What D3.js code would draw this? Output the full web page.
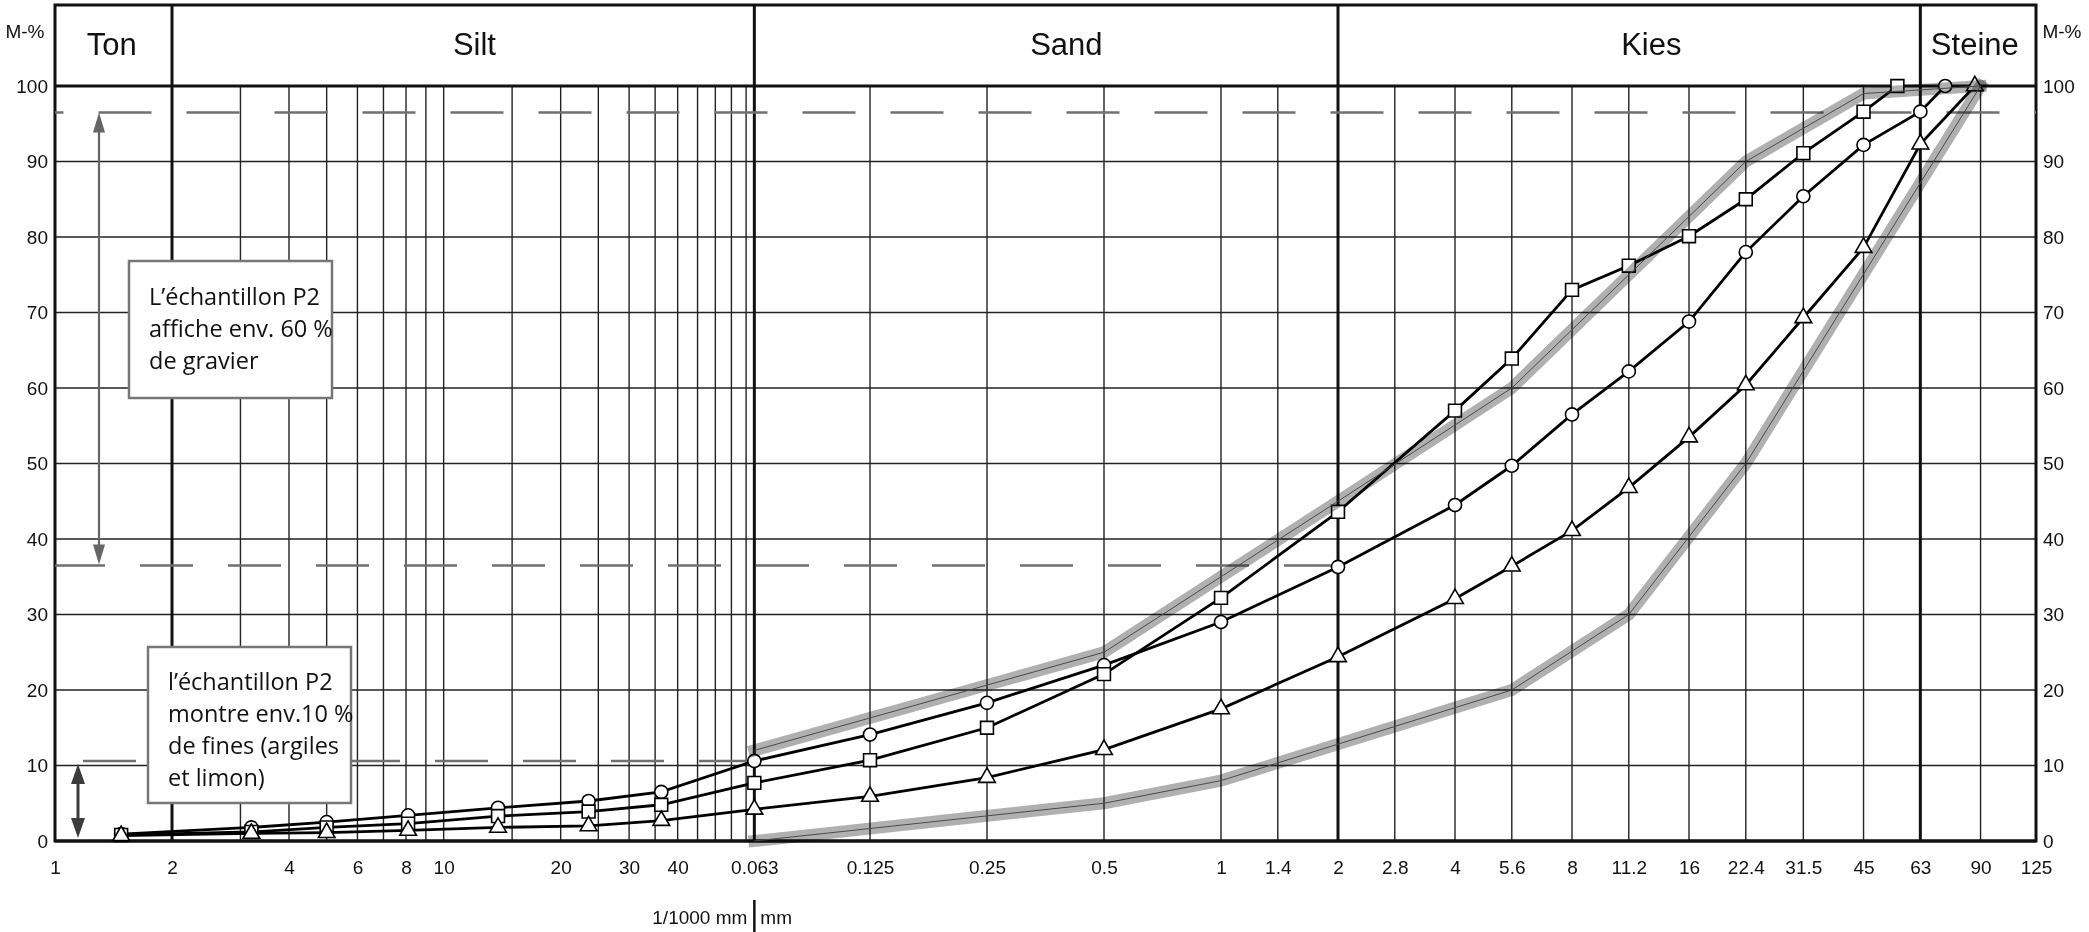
<!DOCTYPE html>
<html>
<head>
<meta charset="utf-8">
<script src="https://cdn.jsdelivr.net/npm/d3@7"></script>
<style>
  body { margin: 0; background: #fff; }
  svg { display: block; }
</style>
</head>
<body>
<script>
// grain sizes are in mm
let circleSizes = [0.00148, 0.0032, 0.005, 0.0081, 0.0138, 0.0236, 0.0363, 0.063, 0.125, 0.25, 0.5, 1, 2, 4, 5.6, 8, 11.2, 16, 22.4, 31.5, 45, 63, 73]
let circleValues = [0.9, 1.8, 2.5, 3.4, 4.4, 5.3, 6.5, 10.6, 14.1, 18.3, 23.3, 29.0, 36.3, 44.5, 49.7, 56.5, 62.2, 68.8, 78.0, 85.4, 92.2, 96.6, 100]

let squareSizes = [0.00148, 0.0032, 0.005, 0.0081, 0.0138, 0.0236, 0.0363, 0.063, 0.125, 0.25, 0.5, 1, 2, 4, 5.6, 8, 11.2, 16, 22.4, 31.5, 45, 55]
let squareValues = [0.8, 1.2, 1.8, 2.3, 3.3, 3.9, 4.8, 7.7, 10.7, 15.0, 22.1, 32.2, 43.6, 57.0, 63.9, 73.0, 76.2, 80.1, 85.0, 91.1, 96.6, 100]

let triangleSizes = [0.00148, 0.0032, 0.005, 0.0081, 0.0138, 0.0236, 0.0363, 0.063, 0.125, 0.25, 0.5, 1, 2, 4, 5.6, 8, 11.2, 16, 22.4, 31.5, 45, 63, 87]
let triangleValues = [0.7, 1.0, 1.1, 1.4, 1.8, 2.0, 2.7, 4.2, 5.9, 8.4, 12.1, 17.5, 24.4, 32.1, 36.4, 41.1, 46.8, 53.5, 60.4, 69.3, 78.6, 92.3, 100]

// grading envelope (grey band)
let upperSizes = [0.063, 0.5, 1, 2, 5.6, 11.2, 22.4, 45, 90]
let upperValues = [12, 25, 35, 45, 60, 75, 90, 99, 100]
let lowerSizes = [0.063, 0.5, 1, 5.6, 11.2, 22.4, 90]
let lowerValues = [0, 5, 8, 20, 30, 50, 100]

// axis
let tickSizes = [0.001, 0.002, 0.004, 0.006, 0.008, 0.01, 0.02, 0.03, 0.04, 0.063, 0.125, 0.25, 0.5, 1, 1.4, 2, 2.8, 4, 5.6, 8, 11.2, 16, 22.4, 31.5, 45, 63, 90, 125]
let tickLabels = ['1', '2', '4', '6', '8', '10', '20', '30', '40', '0.063', '0.125', '0.25', '0.5', '1', '1.4', '2', '2.8', '4', '5.6', '8', '11.2', '16', '22.4', '31.5', '45', '63', '90', '125']
let siltLines = [0.003, 0.004, 0.005, 0.006, 0.007, 0.008, 0.009, 0.01, 0.015, 0.02, 0.025, 0.03, 0.035, 0.04, 0.045, 0.05, 0.055, 0.06]
let coarseLines = [0.125, 0.25, 0.5, 1, 1.4, 2.8, 4, 5.6, 8, 11.2, 16, 22.4, 31.5, 45, 90]
let bounds = [0.002, 0.063, 2, 63]
let zones = ['Ton', 'Silt', 'Sand', 'Kies', 'Steine']
let zoneAt = [0.0014, 0.012, 0.4, 12.8, 87]
let yTicks = [0, 10, 20, 30, 40, 50, 60, 70, 80, 90, 100]

// reference levels (dashed)
let refLevels = [96.5, 36.5, 10.6]
let refEnds = [125, 2, 0.063]

let box1Lines = ['L’échantillon P2', 'affiche env. 60 %', 'de gravier']
let box2Lines = ['l’échantillon P2', 'montre env.10 %', 'de fines (argiles', 'et limon)']

let w = 2089
let h = 932
let headTop = 5

let x = d3.scaleLog().domain([0.001, 125]).range([55, 2036])
let y = d3.scaleLinear().domain([0, 100]).range([841, 86])

let svg = d3.select('body').append('svg').attr('width', w).attr('height', h)
  .style('font-family', "'Liberation Sans', Arial, sans-serif")

// horizontal grid
svg.append('g').selectAll('line').data(yTicks.slice(1, -1)).join('line')
  .attr('x1', x(0.001)).attr('x2', x(125))
  .attr('y1', d => y(d)).attr('y2', d => y(d))
  .attr('stroke', '#222').attr('stroke-width', 1.4)

// vertical grid
svg.append('g').selectAll('line').data(siltLines.concat(coarseLines)).join('line')
  .attr('x1', d => x(d)).attr('x2', d => x(d))
  .attr('y1', y(100)).attr('y2', y(0))
  .attr('stroke', '#222').attr('stroke-width', 1.4)

// frame and zone bounds
svg.append('rect').attr('x', x(0.001)).attr('y', headTop)
  .attr('width', x(125) - x(0.001)).attr('height', y(0) - headTop)
  .attr('fill', 'none').attr('stroke', '#111').attr('stroke-width', 3)
svg.append('g').selectAll('line').data([0, 100]).join('line')
  .attr('x1', x(0.001)).attr('x2', x(125))
  .attr('y1', d => y(d)).attr('y2', d => y(d))
  .attr('stroke', '#111').attr('stroke-width', 3)
svg.append('g').selectAll('line').data(bounds).join('line')
  .attr('x1', d => x(d)).attr('x2', d => x(d))
  .attr('y1', headTop).attr('y2', y(0))
  .attr('stroke', '#111').attr('stroke-width', 3)

// zone names
svg.append('g').selectAll('text').data(zones).join('text')
  .attr('x', (d, i) => x(zoneAt[i])).attr('y', 55)
  .attr('text-anchor', 'middle').attr('font-size', 31).attr('fill', '#111')
  .text(d => d)

// dashed reference lines
let dashStart = [10.5, 52, -5]
svg.append('g').selectAll('line').data(refLevels).join('line')
  .attr('x1', x(0.001)).attr('x2', (d, i) => x(refEnds[i]))
  .attr('y1', d => y(d)).attr('y2', d => y(d))
  .attr('stroke', '#707070').attr('stroke-width', 2.6)
  .attr('stroke-dasharray', '53 35')
  .attr('stroke-dashoffset', (d, i) => ((x(0.001) - dashStart[i]) % 88 + 88) % 88)

// series
let line = d3.line().x(d => x(d[0])).y(d => y(d[1]))
let series = [
  { sizes: circleSizes, values: circleValues, sym: d3.symbolCircle, size: 135 },
  { sizes: squareSizes, values: squareValues, sym: d3.symbolSquare, size: 165 },
  { sizes: triangleSizes, values: triangleValues, sym: d3.symbolTriangle, size: 120 }
]
series.forEach(s => {
  let pts = s.sizes.map((d, i) => [d, s.values[i]])
  svg.append('path').datum(pts).attr('d', line)
    .attr('fill', 'none').attr('stroke', '#000').attr('stroke-width', 2.8)
  svg.append('g').selectAll('path').data(pts).join('path')
    .attr('d', d3.symbol().type(s.sym).size(s.size))
    .attr('transform', d => 'translate(' + x(d[0]) + ',' + y(d[1]) + ')')
    .attr('fill', '#fff').attr('stroke', '#000').attr('stroke-width', 1.6)
})

// envelope band
let env = [upperSizes.map((d, i) => [d, upperValues[i]]), lowerSizes.map((d, i) => [d, lowerValues[i]])]
svg.append('g').selectAll('path').data(env).join('path')
  .attr('d', line).attr('fill', 'none')
  .attr('stroke', '#b0b0b0').attr('stroke-width', 12).attr('stroke-linecap', 'square')
  .style('mix-blend-mode', 'multiply')
svg.append('g').selectAll('path').data(env).join('path')
  .attr('d', line).attr('fill', 'none')
  .attr('stroke', '#4a4a4a').attr('stroke-width', 1)

// axes
let gx = svg.append('g').attr('transform', 'translate(0,' + y(0) + ')')
  .call(d3.axisBottom(x).tickValues(tickSizes).tickFormat((d, i) => tickLabels[i]).tickSize(0).tickPadding(20))
let gl = svg.append('g').attr('transform', 'translate(' + x(0.001) + ',0)')
  .call(d3.axisLeft(y).tickValues(yTicks).tickSize(0).tickPadding(7))
let gr = svg.append('g').attr('transform', 'translate(' + x(125) + ',0)')
  .call(d3.axisRight(y).tickValues(yTicks).tickSize(0).tickPadding(7))
;[gx, gl, gr].forEach(g => {
  g.select('.domain').remove()
  g.selectAll('text').attr('font-size', 19).attr('fill', '#111')
    .attr('font-family', "'Liberation Sans', Arial, sans-serif")
})

svg.append('text').attr('x', 25).attr('y', 38).attr('text-anchor', 'middle')
  .attr('font-size', 19).attr('fill', '#111').text('M-%')
svg.append('text').attr('x', 2062).attr('y', 38).attr('text-anchor', 'middle')
  .attr('font-size', 19).attr('fill', '#111').text('M-%')

// unit note
svg.append('line').attr('x1', x(0.063)).attr('x2', x(0.063)).attr('y1', 900).attr('y2', 932)
  .attr('stroke', '#111').attr('stroke-width', 2.5)
svg.append('text').attr('x', x(0.063) - 7).attr('y', 924).attr('text-anchor', 'end')
  .attr('font-size', 19).attr('fill', '#111').text('1/1000 mm')
svg.append('text').attr('x', x(0.063) + 6).attr('y', 924)
  .attr('font-size', 19).attr('fill', '#111').text('mm')

// note boxes
function noteBox(x0, y0, bw, bh, lines, tx, ty) {
  let g = svg.append('g')
  g.append('rect').attr('x', x0).attr('y', y0).attr('width', bw).attr('height', bh)
    .attr('fill', '#fff').attr('stroke', '#777').attr('stroke-width', 2.5)
  g.selectAll('text').data(lines).join('text')
    .attr('x', tx).attr('y', (d, i) => ty + i * 32)
    .attr('font-family', "'Open Sans', sans-serif").attr('font-size', 23.5).attr('fill', '#111')
    .text(d => d)
}
noteBox(129, 261, 203, 137, box1Lines, 149, 305)
noteBox(148, 647, 203, 156, box2Lines, 168, 690)

// arrows
function arrow(xp, y1, y2, col, lw, hw, hl) {
  let g = svg.append('g')
  g.append('line').attr('x1', xp).attr('x2', xp).attr('y1', y1 + hl - 2).attr('y2', y2 - hl + 2)
    .attr('stroke', col).attr('stroke-width', lw)
  g.append('path').attr('d', 'M' + xp + ',' + y1 + 'L' + (xp - hw / 2) + ',' + (y1 + hl) + 'L' + (xp + hw / 2) + ',' + (y1 + hl) + 'Z').attr('fill', col)
  g.append('path').attr('d', 'M' + xp + ',' + y2 + 'L' + (xp - hw / 2) + ',' + (y2 - hl) + 'L' + (xp + hw / 2) + ',' + (y2 - hl) + 'Z').attr('fill', col)
}
arrow(99, y(96.5), y(36.5) - 1, '#666', 2.2, 12, 20)
arrow(78, y(10.6) + 3, y(0) - 3, '#3c3c3c', 3, 14, 20)
</script>
</body>
</html>
